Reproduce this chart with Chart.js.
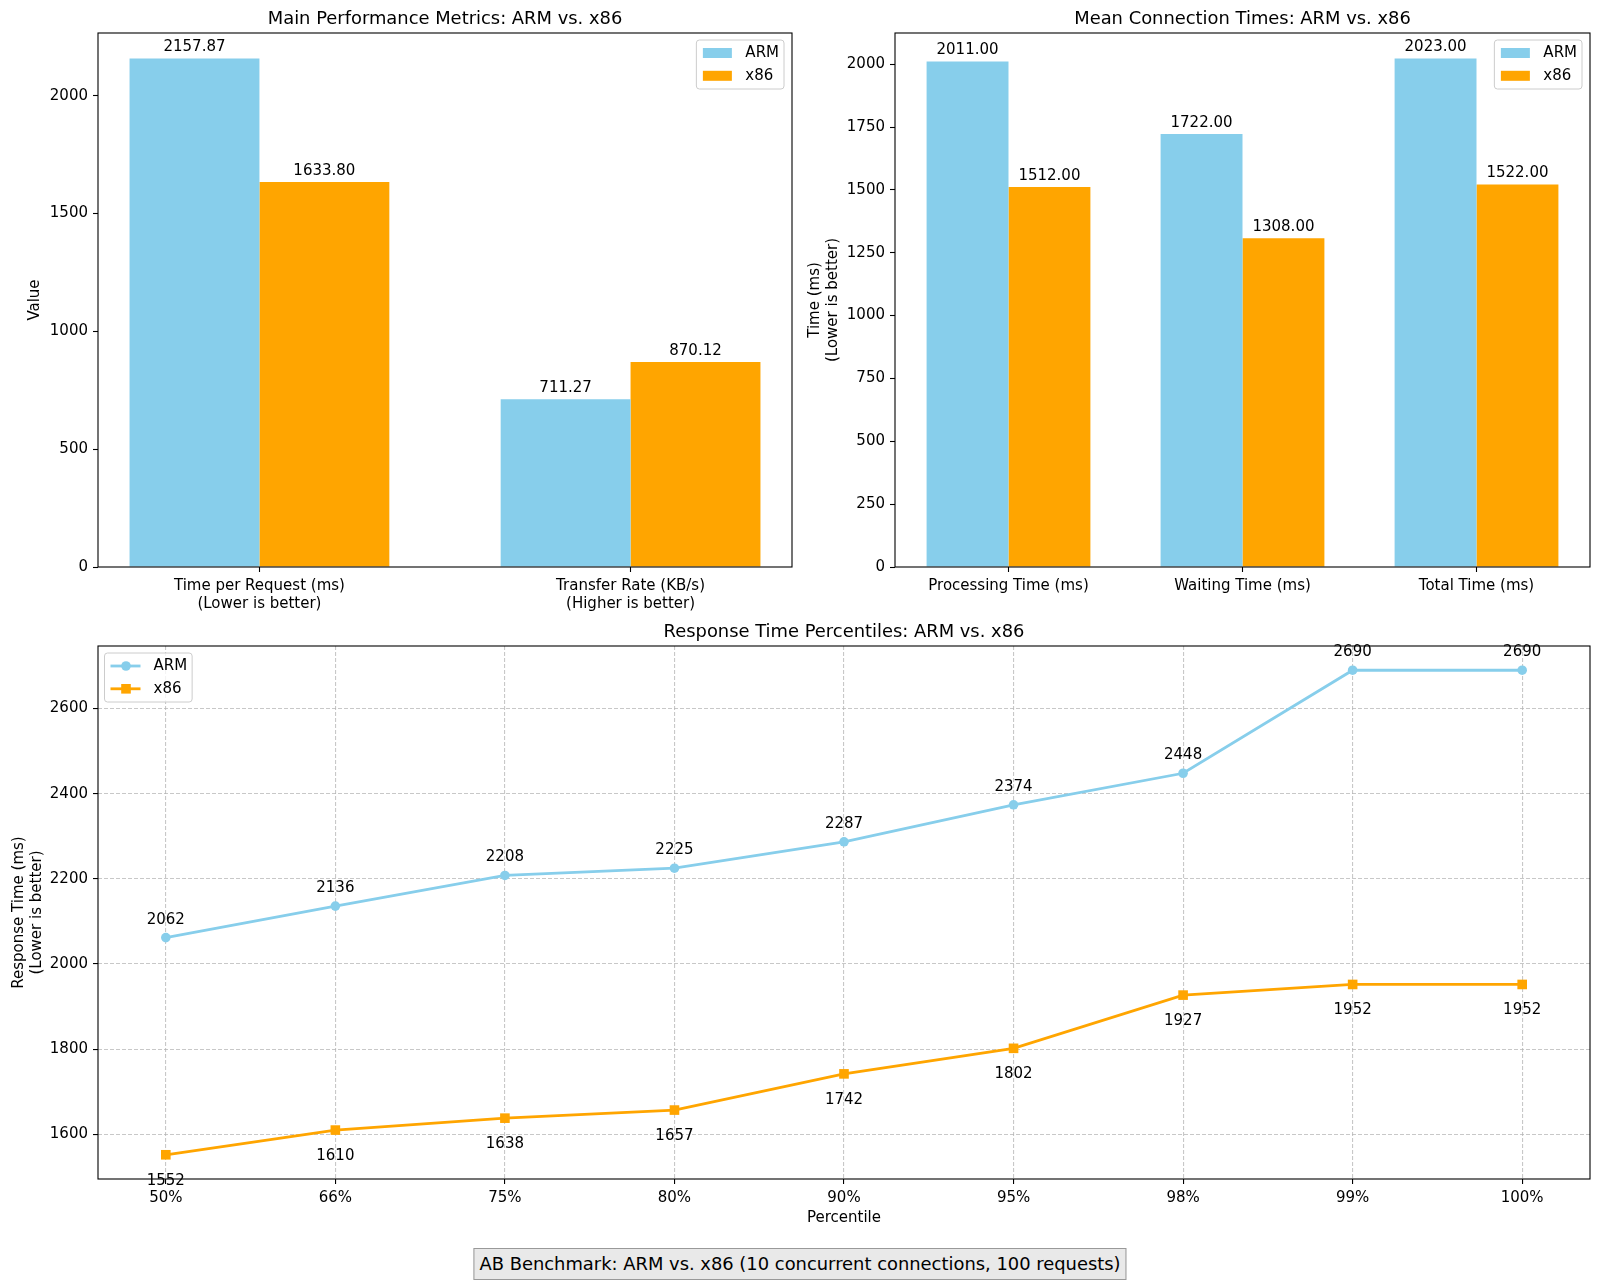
<!DOCTYPE html>
<html>
<head>
<meta charset="utf-8">
<title>AB Benchmark: ARM vs. x86</title>
<script src="https://cdn.jsdelivr.net/npm/chart.js@4.4.0/dist/chart.umd.min.js"></script>
<style>
  body { margin: 0; background: #fff; width: 1600px; height: 1284px; position: relative; overflow: hidden; font-family: 'DejaVu Sans', sans-serif; }
  canvas { position: absolute; }
  #main { left: 0; top: 0; }
  #conn { left: 800px; top: 0; }
  #pct { left: 0; top: 600px; }
  #footer {
    position: absolute; left: 50%; top: 1248px; transform: translateX(-50%);
    height: 30px; line-height: 30px; padding: 0 5px; white-space: nowrap;
    font-size: 17.9px; color: #000; background: #e9e9e9; border: 1px solid #999;
  }
</style>
</head>
<body>
<canvas id="main" width="800" height="620"></canvas>
<canvas id="conn" width="800" height="620"></canvas>
<canvas id="pct" width="1600" height="640"></canvas>
<div id="footer">AB Benchmark: ARM vs. x86 (10 concurrent connections, 100 requests)</div>
<script>
const SERIES = ['ARM', 'x86']
const COLORS = ['#87CEEB', '#FFA500']

const MAIN_LABELS = [['Time per Request (ms)', '(Lower is better)'], ['Transfer Rate (KB/s)', '(Higher is better)']]
const MAIN_ARM = [2157.87, 711.27]
const MAIN_X86 = [1633.80, 870.12]

const CONN_LABELS = ['Processing Time (ms)', 'Waiting Time (ms)', 'Total Time (ms)']
const CONN_ARM = [2011, 1722, 2023]
const CONN_X86 = [1512, 1308, 1522]

const PCT_LABELS = ['50%', '66%', '75%', '80%', '90%', '95%', '98%', '99%', '100%']
const PCT_ARM = [2062, 2136, 2208, 2225, 2287, 2374, 2448, 2690, 2690]
const PCT_X86 = [1552, 1610, 1638, 1657, 1742, 1802, 1927, 1952, 1952]

const FONT = "'DejaVu Sans'"
const FS = 15      // tick / label text
const FS_TITLE = 17.9

Chart.defaults.font.family = FONT
Chart.defaults.font.size = FS
Chart.defaults.color = '#000'

// ticks at every multiple of step inside the axis range
function stepTicks(step) {
  return s => {
    const t = []
    for (let v = Math.ceil(s.min / step - 1e-9) * step; v <= s.max + 1e-9; v += step) t.push({ value: v })
    s.ticks = t
  }
}

// matplotlib-like frame, title, value labels and legend
const mplDecor = {
  id: 'mplDecor',
  afterDraw(chart, args, opts) {
    const { ctx, chartArea: a } = chart
    ctx.save()
    ctx.strokeStyle = '#000'
    ctx.lineWidth = 1.1
    ctx.strokeRect(a.left, a.top, a.right - a.left, a.bottom - a.top)

    ctx.fillStyle = '#000'
    ctx.textAlign = 'center'
    ctx.textBaseline = 'alphabetic'
    ctx.font = FS_TITLE + 'px ' + FONT
    ctx.fillText(opts.title, (a.left + a.right) / 2, a.top - 9)

    ctx.font = FS + 'px ' + FONT
    chart.data.datasets.forEach((ds, i) => {
      const meta = chart.getDatasetMeta(i)
      meta.data.forEach((el, j) => {
        ctx.fillText(opts.fmt(ds.data[j].y), el.x, el.y + opts.labelDy[i])
      })
    })

    // legend
    const dss = chart.data.datasets
    const textW = Math.max(...dss.map(d => ctx.measureText(d.label).width))
    const w = 49 + textW + 5
    const h = 49
    const x0 = opts.legendAt === 'right' ? a.right - 8 - w : a.left + 6.5
    const y0 = a.top + 7
    ctx.beginPath()
    ctx.roundRect(x0, y0, w, h, 3)
    ctx.fillStyle = 'rgba(255,255,255,0.8)'
    ctx.fill()
    ctx.strokeStyle = '#cccccc'
    ctx.lineWidth = 1
    ctx.stroke()
    dss.forEach((d, i) => {
      const cy = y0 + 13 + i * 22.8
      ctx.fillStyle = d.backgroundColor
      if (d.type === 'line') {
        ctx.strokeStyle = d.borderColor
        ctx.lineWidth = d.borderWidth
        ctx.beginPath()
        ctx.moveTo(x0 + 6, cy)
        ctx.lineTo(x0 + 36, cy)
        ctx.stroke()
        const mx = x0 + 21.5
        ctx.beginPath()
        if (d.pointStyle === 'rect') {
          const s = d.pointRadius * Math.SQRT1_2
          ctx.rect(mx - s, cy - s, 2 * s, 2 * s)
        } else {
          ctx.arc(mx, cy, d.pointRadius, 0, Math.PI * 2)
        }
        ctx.fill()
      } else {
        ctx.fillRect(x0 + 6.5, cy - 5, 29, 10)
      }
      ctx.fillStyle = '#000'
      ctx.textAlign = 'left'
      ctx.textBaseline = 'middle'
      ctx.fillText(d.label, x0 + 49, cy)
    })
    ctx.restore()
  }
}

function tickGrid() {
  return { drawOnChartArea: false, tickLength: 5, tickColor: '#000', tickWidth: 1.1, offset: false }
}

function barChart(el, labels, arm, x86, opts) {
  const n = labels.length
  const yMax = Math.max(...arm, ...x86) * 1.05
  return new Chart(el, {
    type: 'bar',
    plugins: [mplDecor],
    data: {
      datasets: [
        { label: SERIES[0], data: arm.map((v, i) => ({ x: i, y: v })), backgroundColor: COLORS[0] },
        { label: SERIES[1], data: x86.map((v, i) => ({ x: i, y: v })), backgroundColor: COLORS[1] },
      ],
    },
    options: {
      responsive: false,
      animation: false,
      layout: { padding: { top: 33, right: opts.padRight, left: 0, bottom: 0 } },
      datasets: { bar: { categoryPercentage: 0.7, barPercentage: 1.0, borderWidth: 0 } },
      plugins: {
        legend: { display: false },
        title: { display: false },
        tooltip: { enabled: false },
        mplDecor: { title: opts.title, fmt: v => v.toFixed(2), labelDy: [-7, -7], legendAt: 'right' },
      },
      scales: {
        x: {
          type: 'linear',
          offset: false,
          min: -0.35 - 0.05 * (n - 1 + 0.7),
          max: n - 1 + 0.35 + 0.05 * (n - 1 + 0.7),
          grid: tickGrid(),
          border: { display: false },
          afterBuildTicks: stepTicks(1),
          ticks: { padding: 5, maxRotation: 0, autoSkip: false,
                   font: { size: FS, lineHeight: 1.2 }, callback: v => labels[v] },
          afterFit: s => { s.height = 53 },
        },
        y: {
          min: 0,
          max: yMax,
          grid: tickGrid(),
          border: { display: false },
          afterBuildTicks: stepTicks(opts.step),
          ticks: { padding: 5, callback: v => String(v) },
          title: { display: true, text: opts.yTitle, padding: { top: opts.yTitlePad, bottom: 0 },
                   font: { size: FS, lineHeight: 1.2 } },
          afterFit: s => { s.width = opts.yWidth },
        },
      },
    },
  })
}

const mainChart = barChart(document.getElementById('main'), MAIN_LABELS, MAIN_ARM, MAIN_X86, {
  title: 'Main Performance Metrics: ARM vs. x86',
  yTitle: 'Value', yTitlePad: 26, yWidth: 98, padRight: 8, step: 500,
})

const connChart = barChart(document.getElementById('conn'), CONN_LABELS, CONN_ARM, CONN_X86, {
  title: 'Mean Connection Times: ARM vs. x86',
  yTitle: ['Time (ms)', '(Lower is better)'], yTitlePad: 6, yWidth: 95, padRight: 10, step: 250,
})

const pctMin = Math.min(...PCT_X86, ...PCT_ARM)
const pctMax = Math.max(...PCT_X86, ...PCT_ARM)
const pctPad = (pctMax - pctMin) * 0.05

const dashGrid = { drawOnChartArea: true, color: 'rgba(176,176,176,0.7)', lineWidth: 1.1,
                   tickLength: 5, tickColor: '#000', tickWidth: 1.1, tickBorderDash: [] }

const pctChart = new Chart(document.getElementById('pct'), {
  type: 'line',
  plugins: [mplDecor],
  data: {
    datasets: [
      {
        type: 'line', label: SERIES[0], data: PCT_ARM.map((v, i) => ({ x: i, y: v })),
        borderColor: COLORS[0], backgroundColor: COLORS[0], borderWidth: 2.8,
        pointStyle: 'circle', pointRadius: 4.8, pointBorderWidth: 0, tension: 0, fill: false,
      },
      {
        type: 'line', label: SERIES[1], data: PCT_X86.map((v, i) => ({ x: i, y: v })),
        borderColor: COLORS[1], backgroundColor: COLORS[1], borderWidth: 2.8,
        pointStyle: 'rect', pointRadius: 6.8, pointBorderWidth: 0, tension: 0, fill: false,
      },
    ],
  },
  options: {
    responsive: false,
    animation: false,
    layout: { padding: { top: 46, right: 10, left: 0, bottom: 0 } },
    plugins: {
      legend: { display: false },
      title: { display: false },
      tooltip: { enabled: false },
      mplDecor: { title: 'Response Time Percentiles: ARM vs. x86', fmt: v => String(v), labelDy: [-14, 30], legendAt: 'left' },
    },
    scales: {
      x: {
        type: 'linear',
        min: -0.4,
        max: PCT_LABELS.length - 1 + 0.4,
        grid: dashGrid,
        border: { display: false, dash: [4, 2] },
        afterBuildTicks: stepTicks(1),
        ticks: { padding: 5, autoSkip: false, maxRotation: 0,
                 font: { size: FS, lineHeight: 1.2 }, callback: v => PCT_LABELS[v] },
        title: { display: true, text: 'Percentile', padding: { top: 0, bottom: 13 }, font: { size: FS, lineHeight: 1.2 } },
        afterFit: s => { s.height = 61 },
      },
      y: {
        min: pctMin - pctPad,
        max: pctMax + pctPad,
        grid: dashGrid,
        border: { display: false, dash: [4, 2] },
        afterBuildTicks: stepTicks(200),
        ticks: { padding: 5, callback: v => String(v) },
        title: { display: true, text: ['Response Time (ms)', '(Lower is better)'], padding: { top: 10, bottom: 0 },
                 font: { size: FS, lineHeight: 1.2 } },
        afterFit: s => { s.width = 98 },
      },
    },
  },
})
</script>
</body>
</html>
